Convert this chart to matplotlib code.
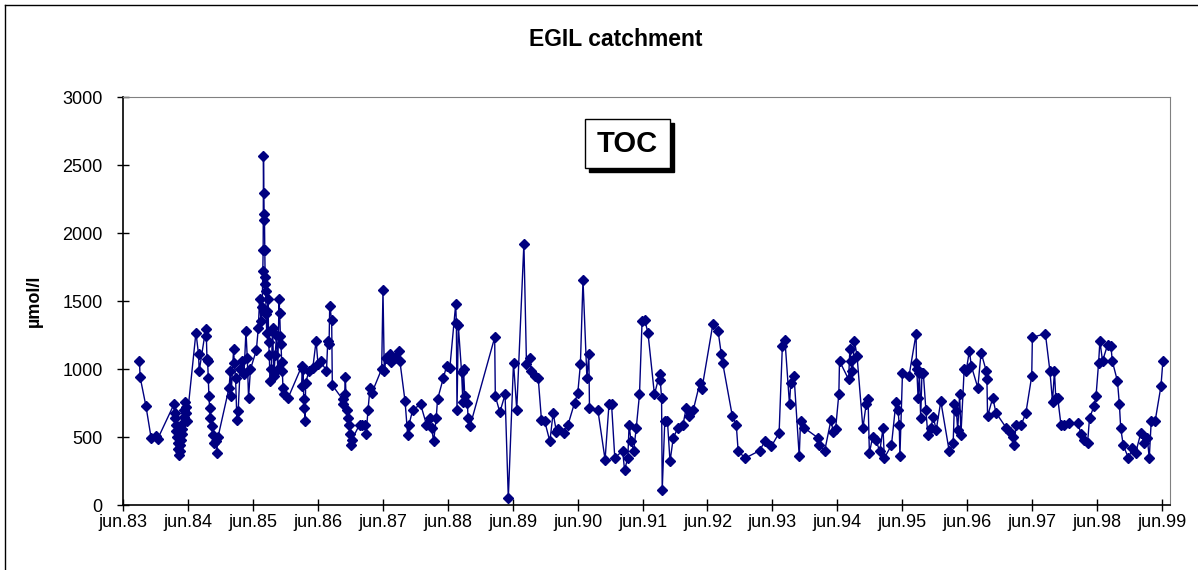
import matplotlib
matplotlib.use("Agg")
import matplotlib.pyplot as plt
from matplotlib.lines import Line2D
from matplotlib.patches import Rectangle

plt.rcParams['font.family'] = ['Liberation Sans', 'DejaVu Sans']

# sampling dates as decimal years, TOC in umol/l
years = [
    1983.67, 1983.68, 1983.77, 1983.85, 1983.93, 1983.95,
    1984.20, 1984.21, 1984.22, 1984.23, 1984.24, 1984.25, 1984.26, 1984.27,
    1984.28, 1984.29, 1984.30, 1984.31, 1984.32, 1984.33, 1984.34, 1984.35,
    1984.36, 1984.37, 1984.38, 1984.39, 1984.40,
    1984.54, 1984.58, 1984.59, 1984.69, 1984.70, 1984.71, 1984.72, 1984.73,
    1984.74, 1984.75, 1984.76, 1984.78, 1984.80, 1984.82, 1984.85, 1984.86,
    1984.88, 1985.05, 1985.07, 1985.08, 1985.12, 1985.13, 1985.15, 1985.17,
    1985.19, 1985.22, 1985.25, 1985.28, 1985.31, 1985.33, 1985.35, 1985.38,
    1985.47, 1985.50, 1985.52, 1985.54, 1985.56, 1985.57, 1985.575, 1985.58,
    1985.585, 1985.59, 1985.595, 1985.60, 1985.605, 1985.61, 1985.615, 1985.62,
    1985.63, 1985.64, 1985.65, 1985.66, 1985.67, 1985.68, 1985.70, 1985.72,
    1985.74, 1985.76, 1985.78, 1985.80, 1985.82, 1985.83, 1985.84, 1985.85,
    1985.86, 1985.87, 1985.88, 1985.90, 1985.96,
    1986.17, 1986.175, 1986.19, 1986.20, 1986.21, 1986.22, 1986.23, 1986.28,
    1986.34, 1986.39, 1986.42, 1986.46, 1986.55, 1986.57, 1986.59, 1986.60,
    1986.63, 1986.64, 1986.80, 1986.81, 1986.83, 1986.84, 1986.86, 1986.88,
    1986.90, 1986.91, 1986.92, 1986.94, 1987.06, 1987.10, 1987.14, 1987.16,
    1987.19, 1987.22, 1987.25, 1987.40, 1987.42, 1987.44, 1987.47, 1987.53,
    1987.55, 1987.60, 1987.66, 1987.68, 1987.76, 1987.80, 1987.82, 1987.88,
    1988.00, 1988.09, 1988.14, 1988.17, 1988.20, 1988.24, 1988.26, 1988.35,
    1988.40, 1988.45, 1988.54, 1988.55, 1988.56, 1988.58, 1988.63, 1988.65,
    1988.66, 1988.68, 1988.72, 1988.73, 1988.76,
    1989.14, 1989.15, 1989.22, 1989.30, 1989.35, 1989.43, 1989.48, 1989.59,
    1989.63, 1989.68, 1989.70, 1989.76, 1989.81, 1989.86, 1989.91, 1989.99,
    1990.04, 1990.09, 1990.12, 1990.20, 1990.27, 1990.37, 1990.42, 1990.46,
    1990.50, 1990.56, 1990.59, 1990.60, 1990.73, 1990.84, 1990.90, 1990.94,
    1990.99, 1991.11, 1991.14, 1991.19, 1991.21, 1991.24, 1991.28, 1991.32,
    1991.37, 1991.41, 1991.45, 1991.50, 1991.60, 1991.68, 1991.69, 1991.71,
    1991.72, 1991.76, 1991.80, 1991.84, 1991.89, 1991.96, 1992.04, 1992.09,
    1992.14, 1992.20, 1992.30, 1992.33, 1992.50, 1992.58, 1992.63, 1992.65,
    1992.80, 1992.86, 1992.89, 1993.00, 1993.22, 1993.30, 1993.40,
    1993.52, 1993.57, 1993.61, 1993.68, 1993.70, 1993.75, 1993.83, 1993.85,
    1993.91, 1994.12, 1994.14, 1994.22, 1994.32, 1994.35, 1994.39, 1994.44,
    1994.45, 1994.59, 1994.61, 1994.63, 1994.65, 1994.68, 1994.72, 1994.81,
    1994.86, 1994.89, 1994.91, 1994.96, 1995.01, 1995.07, 1995.12, 1995.14,
    1995.25, 1995.32, 1995.35, 1995.37, 1995.38, 1995.42,
    1995.52, 1995.63, 1995.634, 1995.64, 1995.66, 1995.68, 1995.70, 1995.72,
    1995.74, 1995.78, 1995.81, 1995.86, 1995.89, 1995.94, 1996.01, 1996.14,
    1996.20, 1996.22, 1996.25, 1996.27, 1996.30, 1996.32, 1996.37, 1996.40,
    1996.45, 1996.48, 1996.58, 1996.63, 1996.71, 1996.72, 1996.73, 1996.81,
    1996.86, 1997.02, 1997.07, 1997.12, 1997.14, 1997.17, 1997.25, 1997.32,
    1997.41, 1997.42, 1997.62, 1997.69, 1997.73, 1997.76, 1997.78, 1997.81,
    1997.86, 1997.91, 1997.99, 1998.12, 1998.17, 1998.22, 1998.27, 1998.30,
    1998.37, 1998.40, 1998.44, 1998.46, 1998.50, 1998.58, 1998.63, 1998.65,
    1998.73, 1998.76, 1998.78, 1998.82, 1998.90, 1998.96, 1999.01, 1999.09,
    1999.14, 1999.19, 1999.22, 1999.25, 1999.31, 1999.40, 1999.43,
]
toc = [
    1059, 941, 727, 493, 510, 485,
    739, 677, 640, 590, 545, 500, 455, 410,
    370, 400, 440, 480, 520, 560, 600, 650,
    700, 760, 720, 680, 620,
    1268, 1108, 985, 1293, 1244, 1071, 1059, 936,
    800, 714, 640, 580, 517, 456, 468, 382,
    500, 862, 985, 800, 1145, 1047, 936, 628,
    690, 1000, 1060, 960, 1281, 1084, 788, 1000,
    1138, 1300, 1515, 1355, 1453, 1724, 1876, 2566,
    2296, 2138, 2099, 1877, 1675, 1626, 1576, 1404,
    1268, 1429, 1515, 1200, 1100, 911, 1000, 1300,
    950, 1100, 1250, 1000, 1515, 1409, 1244, 1182,
    1050, 985, 862, 813, 788,
    1022, 874, 1000, 776, 714, 621, 900, 985,
    1010, 1207, 1034, 1059, 985, 1207, 1182, 1465,
    1360, 881, 776, 740, 813, 943, 700, 640,
    591, 520, 443, 480, 591, 591, 591, 520,
    700, 862, 825, 1000, 1581, 985, 1084, 1108,
    1050, 1084, 1133, 1060, 763, 517, 591, 702,
    739, 591, 640, 566, 468, 640, 776, 936,
    1022, 1010, 1478, 1335, 695, 1320, 980, 760,
    1000, 800, 750, 640, 579,
    1232, 800, 682, 813, 49, 1047, 702, 1921,
    1034, 1084, 985, 950, 936, 628, 616, 468,
    677, 540, 560, 530, 591, 751, 825, 1034,
    1655, 936, 1108, 714, 695, 333, 739, 739,
    345, 400, 259, 345, 591, 468, 400, 566,
    813, 1355, 1360, 1268, 813, 961, 916, 788,
    111, 621, 621, 320, 493, 566, 591, 714,
    653, 702, 899, 850, 1330, 1281, 1108, 1047,
    653, 591, 394, 345, 400, 468, 431,
    530, 1170, 1212, 739, 900, 948, 357, 616,
    566, 493, 443, 394, 628, 540, 560, 818,
    1059, 924, 1150, 1059, 985, 1207, 1096, 566,
    739, 776, 382, 500, 480, 394, 566, 345,
    440, 760, 700, 591, 357, 973,
    948, 1261, 1047, 1000, 788, 973, 640, 973,
    973, 700, 517, 566, 650, 554, 763, 394,
    456, 740, 690, 550, 813, 517, 1000, 985,
    1133, 1022, 862, 1121, 985, 924, 653, 788,
    677, 566, 540, 500, 443, 591, 591, 677,
    948, 1232, 1261, 985, 760, 985, 788, 788,
    591, 591, 603, 603, 520, 480, 456, 640,
    727, 800, 1047, 1207, 1059, 1180, 1170, 1059,
    911, 739, 566, 438, 345, 420, 382, 530,
    456, 490, 345, 616, 616, 874, 1059,
]

tick_years = list(range(1983, 2000))
tick_labels = [f"jun.{y % 100:02d}" for y in tick_years]
y_ticks = [0, 500, 1000, 1500, 2000, 2500, 3000]

navy = '#000080'
W, H = 1198, 570

fig = plt.figure(figsize=(W / 100, H / 100), dpi=100)
ax = fig.add_axes([123 / W, 1 - 505 / H, (1170 - 123) / W, (505 - 97) / H])

ax.plot(years, toc, color=navy, lw=1.0, marker='D', markersize=5.5,
        markerfacecolor=navy, markeredgecolor=navy, zorder=3)

june = [y + 5 / 12 for y in tick_years]
ax.set_xticks(june)
ax.set_xticklabels(tick_labels)
ax.set_xlim(june[0], june[0] + (1170 - 123) / 64.94)
ax.set_yticks(y_ticks)
ax.set_ylim(0, 3000)

ax.tick_params(direction='inout', length=9, width=1, labelsize=13, colors='black')
ax.tick_params(axis='y', pad=10)
ax.tick_params(axis='x', pad=2)
for side in ('top', 'right'):
    ax.spines[side].set_color('#808080')
for side in ('left', 'bottom'):
    ax.spines[side].set_color('black')
    ax.spines[side].set_linewidth(1.2)

ax.set_ylabel("µmol/l", fontsize=13, fontweight='bold', labelpad=14)
fig.text(616 / W, 1 - 40 / H, "EGIL catchment", fontsize=16.5, fontweight='bold',
         ha='center', va='center')

# TOC label box with drop shadow
fig.add_artist(Rectangle((589 / W, 1 - 172 / H), 85 / W, 49 / H, transform=fig.transFigure,
                         facecolor='black', edgecolor='black', zorder=5))
fig.add_artist(Rectangle((585 / W, 1 - 168 / H), 85 / W, 49 / H, transform=fig.transFigure,
                         facecolor='white', edgecolor='black', lw=1, zorder=6))
fig.text(627.5 / W, 1 - 144 / H, "TOC", fontsize=21, fontweight='bold',
         ha='center', va='center', zorder=7)

# outer chart border
fig.add_artist(Line2D([5 / W, 5 / W], [0, 1 - 5 / H], transform=fig.transFigure, color='black', lw=1))
fig.add_artist(Line2D([5 / W, 1], [1 - 5 / H, 1 - 5 / H], transform=fig.transFigure, color='black', lw=1))

fig.savefig("out.png", dpi=100)
